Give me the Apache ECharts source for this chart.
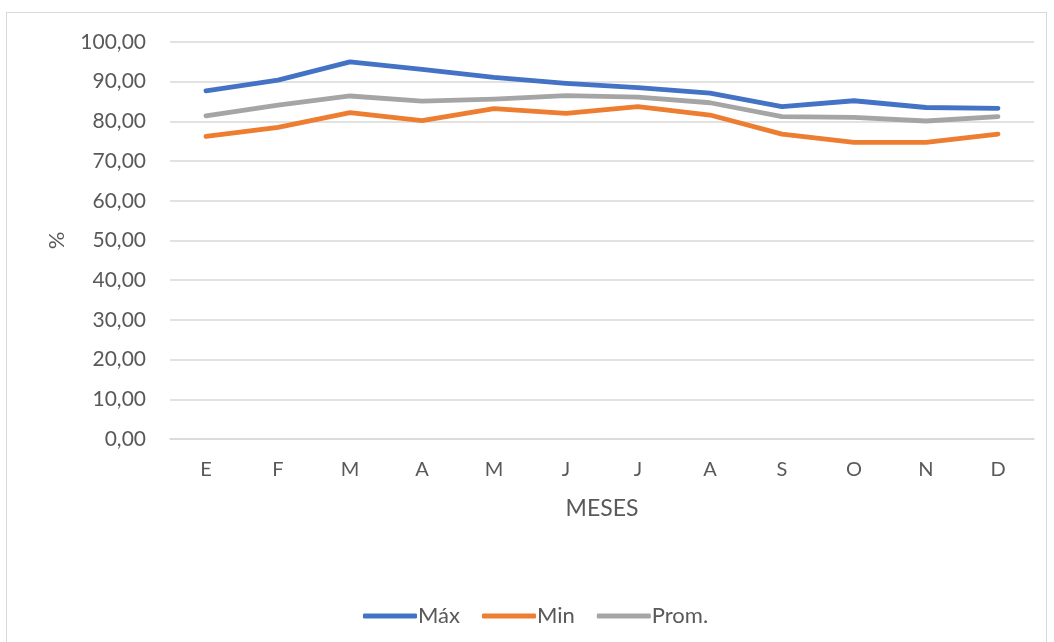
<!DOCTYPE html>
<html>
<head>
<meta charset="utf-8">
<script src="https://cdn.jsdelivr.net/npm/echarts@6/dist/echarts.min.js"></script>
<style>
  html, body { margin: 0; padding: 0; background: #fff; }
  #frame { position: absolute; left: 6px; top: 12px; width: 1041px; height: 640px; border: 1px solid #d9d9d9; box-sizing: border-box; }
  #chart { position: absolute; left: 0; top: 0; width: 1054px; height: 642px; }
</style>
</head>
<body>
<div id="frame"></div>
<div id="chart"></div>
<script>
// Monthly humidity percentages: max, min and average
const months = ['E', 'F', 'M', 'A', 'M', 'J', 'J', 'A', 'S', 'O', 'N', 'D'];
const maxValues = [87.7, 90.4, 95.0, 93.1, 91.1, 89.6, 88.5, 87.1, 83.7, 85.2, 83.5, 83.3];
const minValues = [76.2, 78.5, 82.2, 80.2, 83.2, 82.0, 83.7, 81.6, 76.8, 74.7, 74.7, 76.8];
const avgValues = [81.4, 84.1, 86.4, 85.1, 85.6, 86.5, 86.1, 84.7, 81.2, 81.0, 80.1, 81.2];
const seriesNames = ['Máx', 'Min', 'Prom.'];

const textColor = '#595959';
const fontFamily = 'Lato, "Open Sans", sans-serif';

const chart = echarts.init(document.getElementById('chart'), null, { renderer: 'canvas' });

const mkSeries = (name, data, color) => ({
  name: name,
  type: 'line',
  data: data,
  symbol: 'none',
  smooth: false,
  lineStyle: { color: color, width: 4.8, cap: 'round', join: 'round' },
  itemStyle: { color: color }
});

chart.setOption({
  animation: false,
  backgroundColor: 'transparent',
  textStyle: { fontFamily: fontFamily },
  grid: { left: 170, right: 20, top: 42, bottom: 203 },
  legend: {
    left: 358,
    top: 600,
    itemWidth: 54,
    itemHeight: 5,
    itemGap: 22,
    icon: 'roundRect',
    textStyle: { color: textColor, fontSize: 22, fontFamily: fontFamily, padding: [0, 0, 0, -4] },
    data: seriesNames
  },
  xAxis: {
    type: 'category',
    data: months,
    boundaryGap: true,
    name: 'MESES',
    nameLocation: 'middle',
    nameGap: 58,
    nameTextStyle: { color: textColor, fontSize: 23, fontFamily: fontFamily },
    axisLine: { show: true, lineStyle: { color: '#d9d9d9', width: 1.5 } },
    axisTick: { show: false },
    axisLabel: { color: textColor, fontSize: 20, margin: 21, fontFamily: fontFamily }
  },
  yAxis: {
    type: 'value',
    min: 0,
    max: 100,
    interval: 10,
    name: '%',
    nameLocation: 'middle',
    nameGap: 102,
    nameRotate: 90,
    nameTextStyle: { color: textColor, fontSize: 22, fontFamily: fontFamily },
    axisLine: { show: false },
    axisTick: { show: false },
    splitLine: { lineStyle: { color: '#d9d9d9', width: 1.5 } },
    axisLabel: {
      color: textColor,
      fontSize: 21,
      margin: 24,
      fontFamily: fontFamily,
      formatter: v => v.toFixed(2).replace('.', ',')
    }
  },
  series: [
    mkSeries(seriesNames[0], maxValues, '#4472C4'),
    mkSeries(seriesNames[1], minValues, '#ED7D31'),
    mkSeries(seriesNames[2], avgValues, '#A5A5A5')
  ]
});
</script>
</body>
</html>
